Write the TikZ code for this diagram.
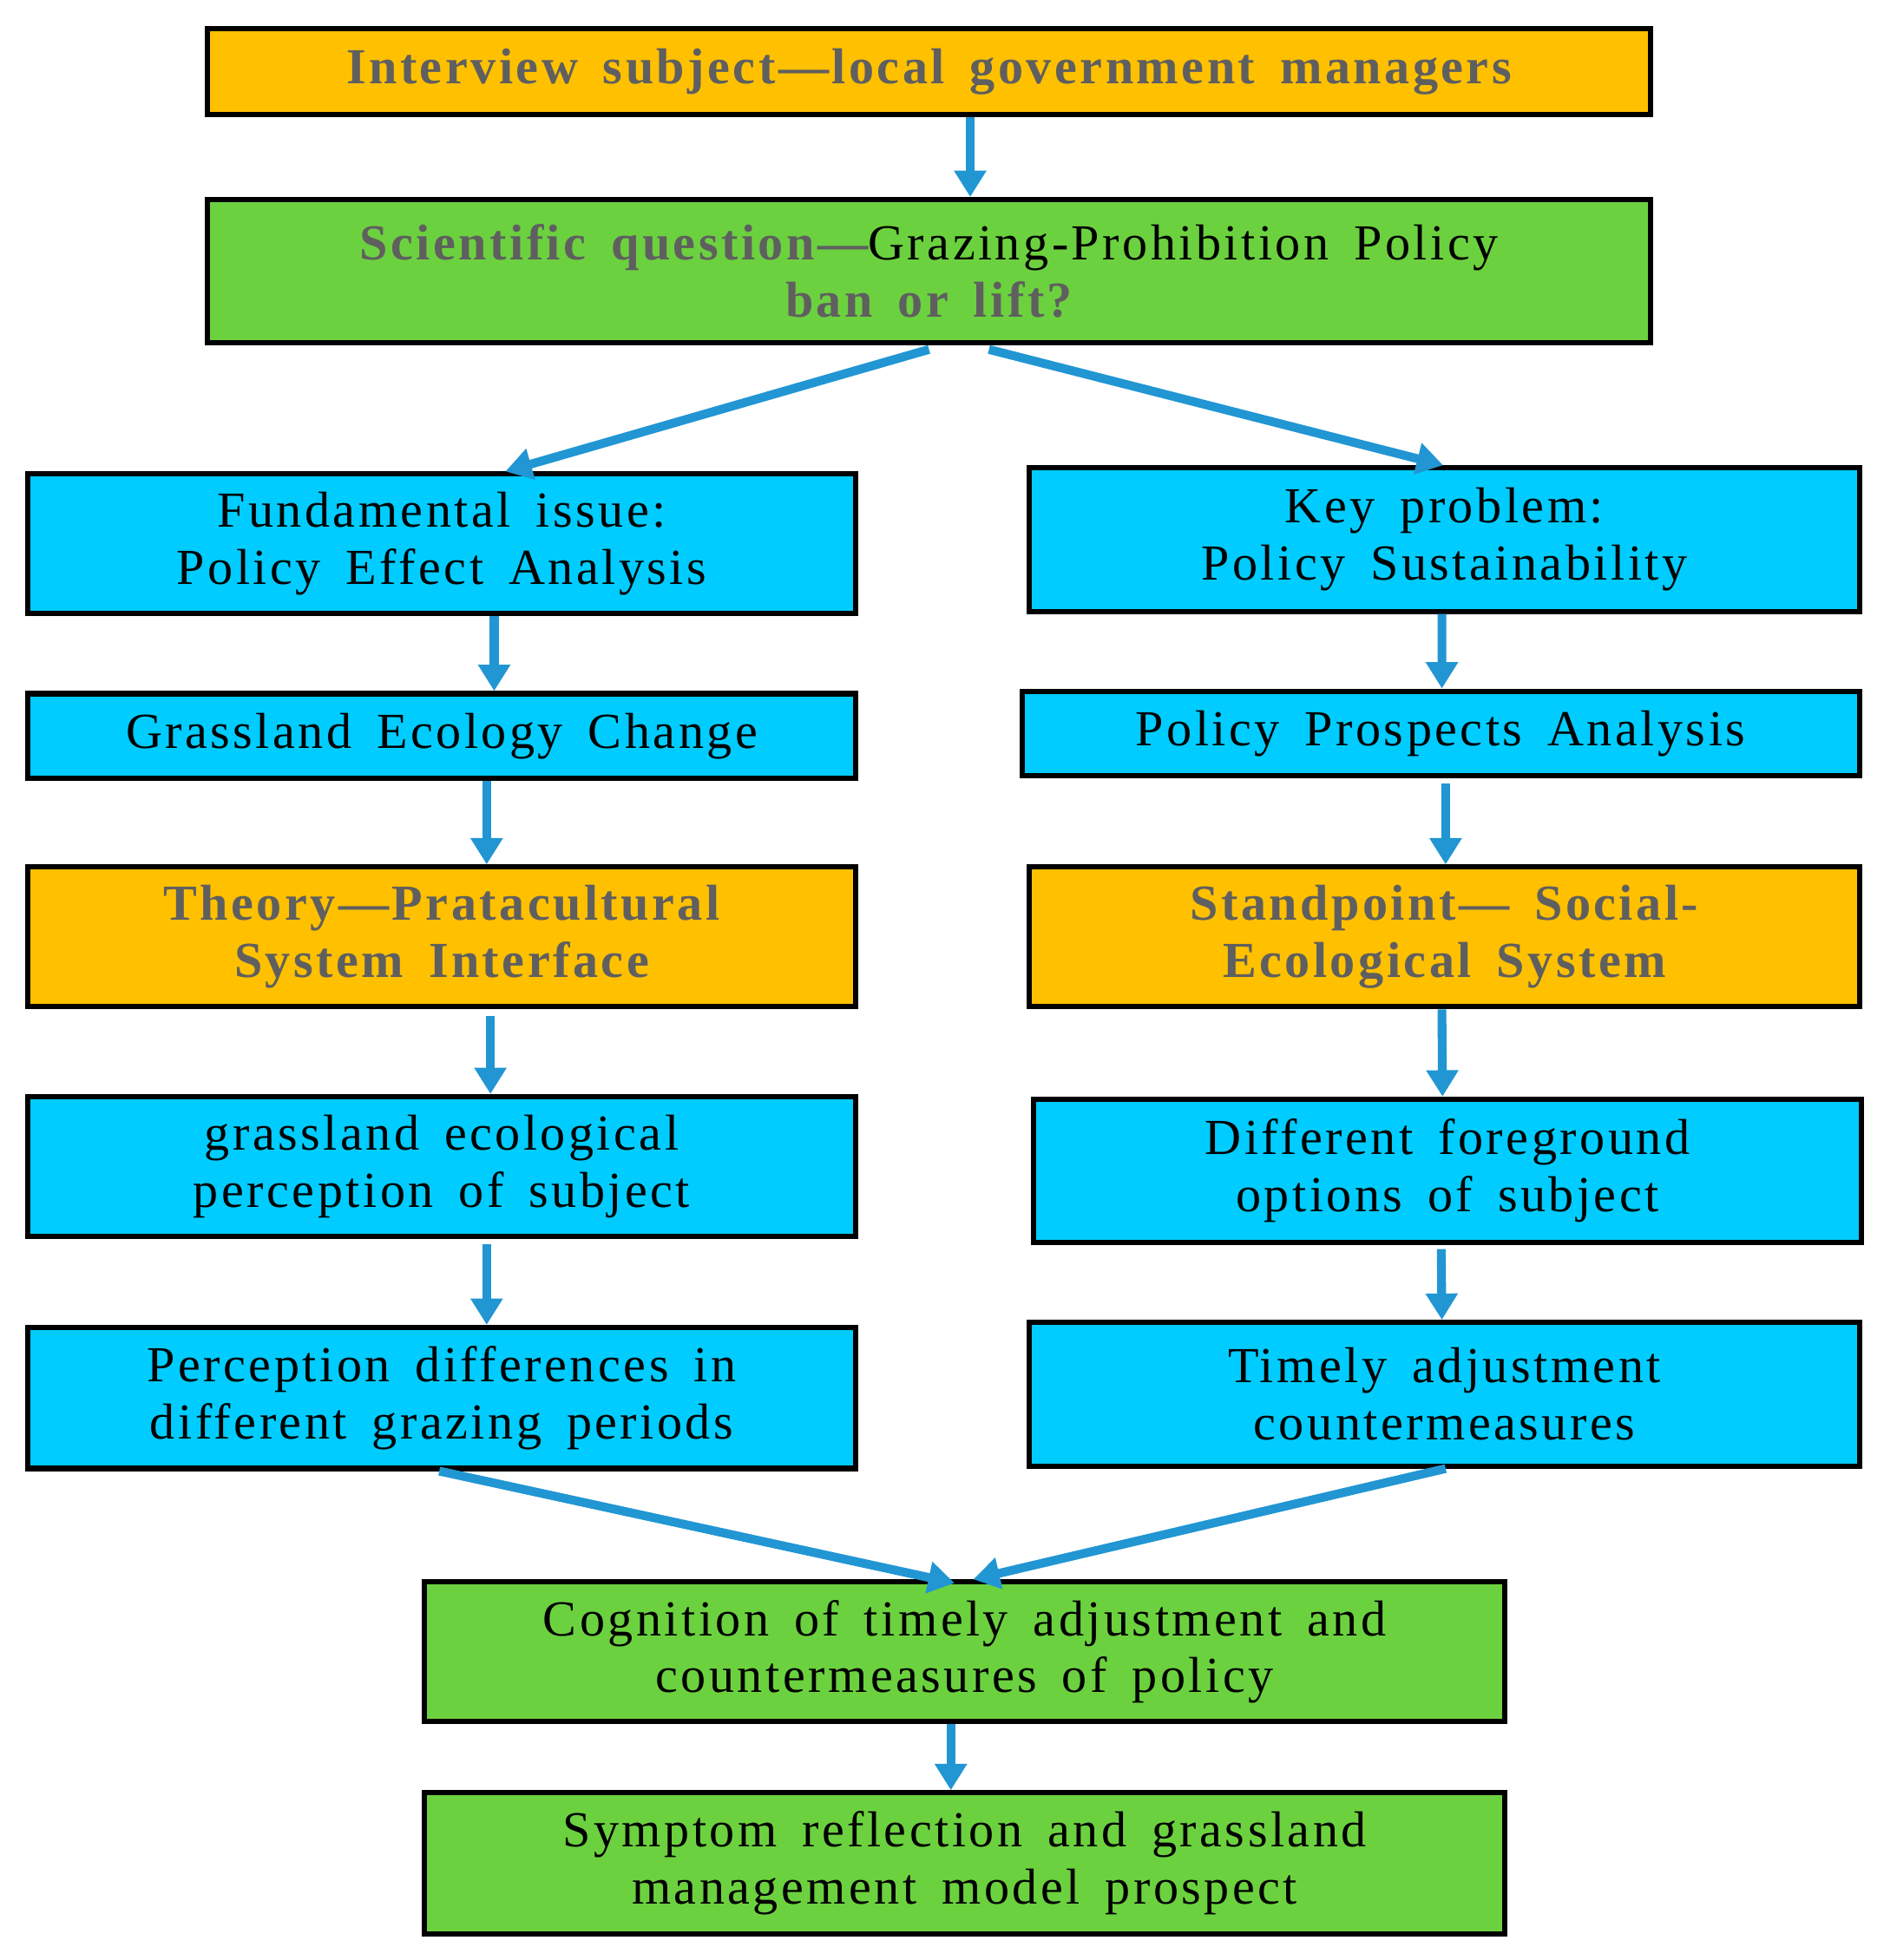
\documentclass[tikz,border=0pt]{standalone}
\usepackage{fontspec}
\setmainfont{Liberation Serif}[LetterSpace=6,WordSpace=1.6]
\usetikzlibrary{arrows.meta}
\definecolor{orng}{HTML}{FFC000}
\definecolor{grn}{HTML}{6CD13F}
\definecolor{cyn}{HTML}{00CCFF}
\definecolor{arr}{HTML}{2196D3}
\definecolor{gry}{HTML}{5F5F5F}
\begin{document}
\begin{tikzpicture}[x=0.01cm,y=-0.01cm,
 box/.style={draw=black,line width=1.2pt,align=center,inner sep=0pt,font=\fontsize{11.5}{13}\selectfont},
 ar/.style={draw=arr,line width=2pt,-{Triangle[width=7pt,length=6pt]}},
 hl/.style={text=gry,font=\fontsize{11.5}{13}\selectfont\bfseries}]
\useasboundingbox (0,0) rectangle (1520,1571);
\newcommand{\bx}[7]{\node[box,fill=#6,minimum width={(#3-#2)*0.01cm},minimum height={(#5-#4)*0.01cm}] (#1) at ({(#2+#3)/2},{(#4+#5)/2}) {#7};}
\bx{b1}{166}{1323}{23}{92}{orng}{\textcolor{gry}{\bfseries Interview subject—local government managers}}
\bx{b2}{166}{1323}{160}{275}{grn}{\textcolor{gry}{\bfseries Scientific question—}Grazing-Prohibition Policy\\\textcolor{gry}{\bfseries ban or lift?}}
\bx{b3}{22}{686}{380}{492}{cyn}{Fundamental issue:\\Policy Effect Analysis}
\bx{b4}{825}{1490}{375}{490}{cyn}{Key problem:\\Policy Sustainability}
\bx{b5}{22}{686}{556}{624}{cyn}{Grassland Ecology Change}
\bx{b6}{819}{1490}{554}{622}{cyn}{Policy Prospects Analysis}
\bx{b7}{22}{686}{695}{807}{orng}{\textcolor{gry}{\bfseries Theory—Pratacultural}\\\textcolor{gry}{\bfseries System Interface}}
\bx{b8}{825}{1490}{695}{807}{orng}{\textcolor{gry}{\bfseries Standpoint— Social-}\\\textcolor{gry}{\bfseries Ecological System}}
\bx{b9}{22}{686}{879}{991}{cyn}{grassland ecological\\perception of subject}
\bx{b10}{828}{1492}{881}{996}{cyn}{Different foreground\\options of subject}
\bx{b11}{22}{686}{1064}{1177}{cyn}{Perception differences in\\different grazing periods}
\bx{b12}{825}{1490}{1060}{1175}{cyn}{Timely adjustment\\countermeasures}
\bx{b13}{340}{1206}{1268}{1380}{grn}{Cognition of timely adjustment and\\countermeasures of policy}
\bx{b14}{340}{1206}{1437}{1550}{grn}{Symptom reflection and grassland\\management model prospect}
\draw[ar] ([xshift=0.33cm]b1.south) -- ([xshift=0.33cm]b2.north);
\draw[ar] ([xshift=0.0cm,yshift=-0.03cm]b2.south) -- ([xshift=0.51cm]b3.north);
\draw[ar] ([xshift=0.48cm,yshift=-0.03cm]b2.south) -- ([xshift=-0.01cm]b4.north);
\draw[ar] ([xshift=0.42cm]b3.south) -- ([xshift=0.42cm]b5.north);
\draw[ar] ([xshift=0.36cm]b5.south) -- ([xshift=0.36cm]b7.north);
\draw[ar] ([xshift=0.39cm,yshift=-0.05cm]b7.south) -- ([xshift=0.39cm]b9.north);
\draw[ar] ([xshift=0.36cm,yshift=-0.04cm]b9.south) -- ([xshift=0.36cm]b11.north);
\draw[ar] ([xshift=-0.02cm]b4.south) -- ([xshift=0.01cm]b6.north);
\draw[ar] ([xshift=0.04cm,yshift=-0.04cm]b6.south) -- ([xshift=0.01cm]b8.north);
\draw[ar] ([xshift=-0.02cm]b8.south) -- ([xshift=-0.04cm]b10.north);
\draw[ar] ([xshift=-0.05cm,yshift=-0.03cm]b10.south) -- ([xshift=-0.02cm]b12.north);
\draw[ar] ([xshift=-0.02cm]b11.south) -- ([xshift=-0.08cm,yshift=-0.03cm]b13.north);
\draw[ar] ([xshift=0.01cm]b12.south) -- ([xshift=0.07cm]b13.north);
\draw[ar] ([xshift=-0.11cm]b13.south) -- ([xshift=-0.11cm]b14.north);
\end{tikzpicture}
\end{document}
